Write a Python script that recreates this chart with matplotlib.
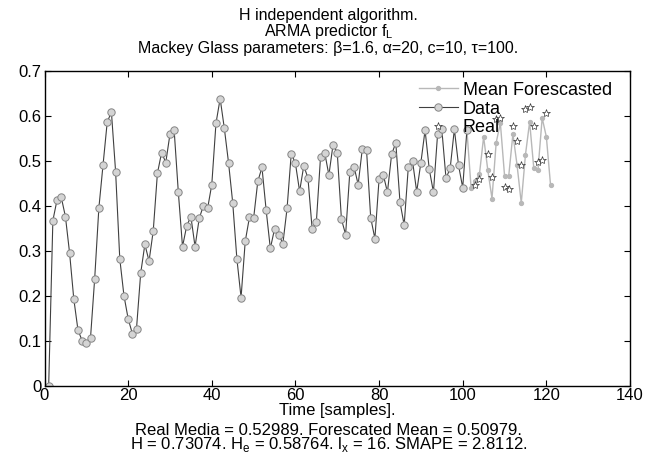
import numpy as np
import matplotlib
matplotlib.use('Agg')
import matplotlib.pyplot as plt

plt.rcParams['font.family'] = ['Liberation Sans', 'DejaVu Sans']
plt.rcParams['mathtext.fontset'] = 'custom'
plt.rcParams['mathtext.rm'] = 'Liberation Sans'

# serie observada (t = 1..101)
t_data = np.arange(1, 102)
data = [0.000, 0.367, 0.413, 0.419, 0.376, 0.295, 0.193, 0.124, 0.100, 0.095,
        0.106, 0.238, 0.395, 0.491, 0.586, 0.608, 0.476, 0.282, 0.200, 0.149,
        0.116, 0.127, 0.250, 0.314, 0.277, 0.344, 0.472, 0.518, 0.496, 0.559,
        0.568, 0.430, 0.309, 0.355, 0.376, 0.309, 0.372, 0.400, 0.394, 0.447,
        0.583, 0.638, 0.572, 0.496, 0.407, 0.282, 0.196, 0.321, 0.374, 0.372,
        0.454, 0.485, 0.390, 0.305, 0.348, 0.336, 0.316, 0.394, 0.516, 0.494,
        0.432, 0.489, 0.461, 0.348, 0.363, 0.508, 0.518, 0.468, 0.536, 0.518,
        0.370, 0.336, 0.474, 0.487, 0.447, 0.527, 0.524, 0.373, 0.327, 0.459,
        0.469, 0.430, 0.514, 0.540, 0.408, 0.357, 0.487, 0.499, 0.431, 0.496,
        0.568, 0.481, 0.430, 0.560, 0.570, 0.461, 0.483, 0.570, 0.490, 0.440,
        0.568]

# media pronosticada (t = 101..121)
t_fore = np.arange(101, 122)
fore = [0.568, 0.440, 0.455, 0.470, 0.553, 0.479, 0.416, 0.540, 0.584, 0.467,
        0.466, 0.559, 0.490, 0.406, 0.513, 0.586, 0.483, 0.480, 0.595, 0.553,
        0.446]

# valores reales
t_real = [103, 104, 106, 107, 108, 109, 110, 111, 112, 113, 114, 115, 116,
          117, 118, 119, 120]
real = [0.446, 0.459, 0.515, 0.463, 0.592, 0.596, 0.442, 0.437, 0.577, 0.544,
        0.490, 0.616, 0.619, 0.578, 0.498, 0.502, 0.605]

W, H = 657, 458
fig = plt.figure(figsize=(W / 100, H / 100), dpi=100)
ax = fig.add_axes([44.5 / W, 1 - 385.7 / H, (630 - 44.5) / W, (385.7 - 70.7) / H])

ax.plot(t_fore, fore, '-', color='#b8b8b8', lw=1.0, marker='o', ms=2.8,
        mfc='#b8b8b8', mec='#b8b8b8', label='Mean Forescasted')
ax.plot(t_data, data, '-', color='#404040', lw=0.8, marker='o', ms=5.3,
        mfc='#d4d4d4', mec='#858585', mew=0.7, label='Data')
ax.plot(t_real, real, ls='none', marker='*', ms=6, mfc='white',
        mec='#333333', mew=0.5, label='Real')

ax.set_xlim(0, 140)
ax.set_ylim(0, 0.7)
ax.set_xticks(np.arange(0, 141, 20))
ax.set_yticks(np.arange(0, 0.71, 0.1))
ax.set_yticklabels(['0', '0.1', '0.2', '0.3', '0.4', '0.5', '0.6', '0.7'])
ax.tick_params(direction='in', top=True, right=True, labelsize=12, length=4,
               width=0.8, pad=2)
for s in ax.spines.values():
    s.set_linewidth(1.0)

leg = ax.legend(loc='upper left', bbox_to_anchor=((419 - 44.5) / 585.5, 0.965),
                frameon=False, fontsize=13, handlelength=2.15,
                handletextpad=0.28, labelspacing=0.1, borderaxespad=0,
                borderpad=0)

ax.set_xlabel('Time [samples].', fontsize=12, labelpad=0)

titulo = ('H independent algorithm.\n'
          r'ARMA predictor f$_\mathrm{L}$' '\n'
          'Mackey Glass parameters: \u03b2=1.6, \u03b1=20, c=10, \u03c4=100.')
fig.text(0.5, 1 - 8 / H, titulo, ha='center', va='top', fontsize=11.5,
         linespacing=0.95)

pie = ('Real Media = 0.52989. Forescated Mean = 0.50979.\n'
       r'H = 0.73074. H$_\mathrm{e}$ = 0.58764. l$_\mathrm{x}$ = 16. SMAPE = 2.8112.')
fig.text(0.5, 1 - 423 / H, pie, ha='center', va='top', fontsize=12,
         linespacing=0.82)

fig.savefig('out.png', dpi=100)
